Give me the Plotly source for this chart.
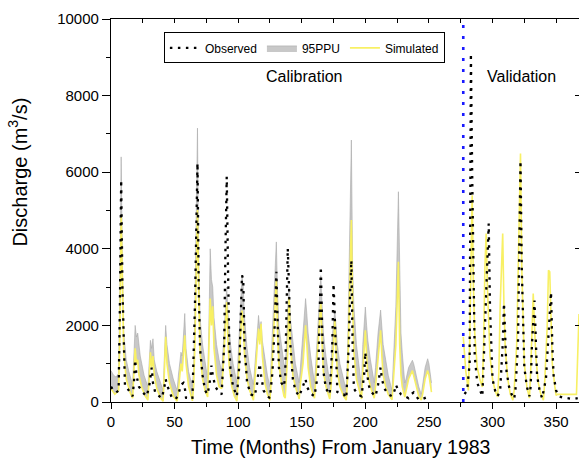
import plotly.graph_objects as go

# ---------------- data (months since Jan 1983, discharge m3/s) ----------------
sim_cal_month = [0, 3, 6, 7, 8, 9, 10, 12, 15, 17,
                 18, 19, 20, 21, 22, 24, 27, 29,
                 30, 31, 32, 33, 34, 36, 39, 41,
                 42, 43, 44, 46, 49, 52,
                 53, 55, 56, 57, 58, 59, 61, 64,
                 65, 66, 67, 68, 69, 70, 72, 74, 76,
                 77, 78, 79, 80, 81, 83, 85, 87,
                 88, 90, 91, 92, 93, 95, 97, 99,
                 100, 102, 103, 104, 105, 107, 109, 112,
                 113, 115, 116, 117, 118, 119, 121, 123, 125,
                 126, 128, 130, 131, 132, 134, 136, 137,
                 138, 139, 140, 141, 143, 145, 148,
                 149, 151, 153, 154, 155, 157, 160,
                 161, 163, 165, 166, 167, 169, 172,
                 173, 174, 176, 177, 178, 180, 183, 185,
                 186, 187, 189, 190, 191, 193, 195, 197,
                 198, 200, 201, 202, 204, 207,
                 208, 210, 212, 213, 214, 216, 218, 221,
                 222, 224, 226, 227, 228, 229, 231,
                 232, 234, 237, 238, 240, 242, 244,
                 245, 247, 249, 250, 252]
sim_cal_value = [350, 200, 300, 1800, 4880, 2600, 1300, 600, 250, 100,
                 700, 1400, 1000, 1100, 700, 400, 150, 50,
                 600, 1300, 900, 1200, 700, 350, 100, 20,
                 800, 1700, 1000, 500, 150, 20,
                 300, 1000, 800, 1200, 1740, 1000, 400, 30,
                 400, 1500, 3000, 5010, 2800, 1300, 600, 300, 130,
                 1200, 2700, 2000, 2500, 1400, 700, 400, 350,
                 800, 2000, 2610, 1500, 900, 400, 150, 20,
                 700, 1800, 2390, 2000, 1200, 600, 300, 50,
                 500, 1300, 1920, 1500, 2040, 1200, 500, 200, 50,
                 600, 1800, 3180, 1800, 1000, 500, 150, 100,
                 700, 1300, 2740, 1500, 700, 400, 80,
                 500, 1000, 2000, 1500, 900, 400, 100,
                 600, 1500, 2610, 1500, 800, 400, 80,
                 400, 1000, 2130, 1300, 800, 400, 150, 50,
                 600, 2000, 4750, 2500, 1300, 600, 300, 80,
                 800, 1870, 1200, 700, 400, 100,
                 400, 1200, 1870, 1200, 700, 400, 200, 60,
                 500, 1500, 3660, 1500, 700, 400, 130,
                 300, 600, 820, 700, 400, 150, 50,
                 200, 600, 820, 700, 260]

sim_val_month = [277, 279, 281, 282, 283, 284, 285, 286, 288, 290, 292,
                 293, 294, 295, 296, 297, 298, 300, 302, 304,
                 305, 306, 308, 309, 310, 312, 314, 316,
                 317, 319, 321, 322, 323, 324, 325, 327, 329,
                 330, 331, 332, 333, 334, 336, 338, 340,
                 341, 343, 344, 345, 346, 347, 349, 350,
                 351, 366, 368]
sim_val_value = [1700, 800, 300, 1500, 3500, 5400, 3000, 1800, 900, 600, 390,
                 1500, 3500, 4400, 3000, 2000, 1200, 600, 300, 130,
                 800, 2500, 4400, 2500, 1400, 600, 200, 50,
                 300, 1500, 4500, 6490, 3500, 2000, 1000, 400, 100,
                 800, 1800, 2830, 2000, 1200, 500, 200, 50,
                 500, 2000, 3440, 3400, 2000, 1000, 400, 170,
                 200, 200, 2300]

ppu_month = [0, 2, 4, 6, 7, 8, 9, 10, 12, 14, 17,
             18, 19, 20, 21, 23, 26, 29,
             30, 31, 32, 33, 34, 36, 39, 41,
             42, 43, 44, 46, 49, 52,
             53, 55, 56, 57, 58, 59, 61, 64,
             65, 66, 67, 68, 69, 70, 72, 74, 76,
             77, 78, 79, 80, 81, 83, 85, 87,
             88, 90, 91, 92, 94, 96, 99,
             100, 102, 103, 104, 105, 107, 109, 112,
             113, 115, 116, 117, 118, 119, 121, 123, 125,
             126, 128, 130, 131, 132, 134, 136, 137,
             138, 139, 140, 141, 143, 145, 148,
             149, 151, 153, 154, 155, 157, 160,
             161, 163, 165, 166, 167, 169, 172,
             173, 174, 176, 177, 178, 180, 183, 185,
             186, 187, 189, 190, 191, 193, 195, 197,
             198, 200, 201, 202, 204, 207,
             208, 210, 212, 213, 214, 216, 218, 221,
             222, 224, 226, 227, 228, 229, 231,
             232, 234, 237, 238, 240, 242, 244,
             245, 247, 249, 250, 252]
ppu_upper = [820, 700, 650, 750, 3000, 6400, 3500, 1800, 1100, 800, 450,
             1200, 2000, 1700, 1800, 1200, 700, 400,
             900, 1610, 1400, 1650, 1100, 800, 500, 300,
             1200, 2000, 1500, 1000, 600, 300,
             700, 1300, 1200, 1800, 2310, 1400, 800, 400,
             900, 2500, 4500, 7150, 3500, 2200, 1500, 1000, 600,
             2000, 4000, 3200, 3000, 2200, 1500, 1100, 800,
             1300, 2500, 3000, 2300, 1500, 1000, 500,
             1200, 2500, 3300, 3000, 2200, 1400, 900, 450,
             900, 1700, 2260, 1900, 2100, 1600, 1100, 700, 400,
             1100, 2800, 4180, 2800, 2000, 1500, 1000, 900,
             1500, 2500, 3000, 2200, 1500, 1000, 500,
             900, 1800, 2700, 2300, 1800, 1200, 500,
             1000, 2200, 3300, 2500, 1800, 1200, 500,
             900, 1700, 2400, 2000, 1500, 1000, 600, 300,
             1200, 3000, 6840, 3500, 2500, 1500, 1000, 400,
             1500, 2480, 2000, 1600, 1100, 500,
             900, 1800, 2400, 1900, 1500, 1100, 700, 300,
             1000, 2500, 5490, 3000, 1800, 1300, 500,
             600, 900, 1090, 1000, 700, 400, 200,
             400, 900, 1130, 1000, 500]

obs_cal_month = [0, 2, 4, 6, 7, 8, 9, 10, 11, 13, 15, 17,
                 18, 19, 20, 22, 25, 28,
                 30, 31, 32, 33, 35, 38, 40,
                 42, 43, 44, 46, 48, 51,
                 53, 55, 57, 58, 59, 62, 64,
                 66, 67, 68, 69, 70, 72, 74, 76,
                 78, 79, 80, 82, 84, 87,
                 89, 90, 91, 92, 93, 94, 96, 99,
                 101, 102, 103, 104, 105, 107, 110, 113,
                 115, 116, 117, 118, 120, 123, 125,
                 127, 129, 130, 131, 132, 134, 136, 137,
                 138, 139, 140, 141, 143, 145, 148,
                 151, 153, 154, 157, 160,
                 163, 164, 165, 166, 167, 169, 172,
                 174, 175, 176, 177, 178, 181, 183, 185,
                 187, 188, 189, 190, 191, 194, 197,
                 199, 200, 201, 203, 205, 208,
                 210, 212, 213, 215, 218, 221,
                 223, 224, 226, 228, 231, 234,
                 236, 238, 240, 242, 245, 248, 250]
obs_cal_value = [400, 300, 250, 300, 2500, 5800, 3000, 1200, 400, 350, 250, 150,
                 500, 1100, 700, 400, 250, 150,
                 400, 700, 900, 500, 220, 150, 100,
                 400, 600, 450, 250, 100, 80,
                 200, 450, 500, 380, 110, 100, 80,
                 2500, 4500, 6240, 3000, 1400, 700, 300, 200,
                 600, 950, 700, 400, 300, 200,
                 1500, 4000, 5880, 3500, 1500, 800, 400, 150,
                 1000, 2200, 3310, 3200, 1500, 500, 200, 150,
                 500, 800, 1000, 700, 300, 150, 100,
                 800, 2200, 3400, 2000, 900, 500, 400, 700,
                 2500, 4010, 3000, 1500, 600, 300, 150,
                 400, 600, 400, 220, 150,
                 800, 2200, 3530, 2000, 800, 350, 200,
                 1500, 3090, 2200, 1000, 260, 200, 200, 100,
                 1500, 2800, 3700, 1500, 350, 200, 150,
                 700, 1300, 800, 400, 250, 150,
                 450, 900, 600, 350, 200, 150,
                 300, 450, 300, 200, 150, 100,
                 200, 250, 150, 60, 80, 120, 200]

obs_val_month = [278, 280, 282, 283, 284, 285, 286, 288, 290, 292,
                 293, 294, 295, 296, 297, 298, 299, 300, 302, 304,
                 306, 308, 309, 310, 311, 313, 315, 317,
                 318, 320, 321, 322, 323, 324, 325, 327, 329,
                 330, 331, 333, 334, 335, 337, 339,
                 342, 344, 345, 346, 347, 348, 350, 352,
                 355, 358, 361, 364, 367]
obs_val_value = [210, 300, 1000, 9100, 6000, 3000, 1200, 500, 300, 150,
                 1000, 2000, 3000, 4200, 4660, 2500, 1200, 600, 300, 150,
                 300, 1500, 2580, 1500, 800, 400, 200, 80,
                 300, 1500, 3500, 6300, 3500, 1800, 900, 400, 150,
                 400, 1500, 2650, 1500, 700, 300, 100,
                 600, 1800, 2500, 2870, 1500, 700, 300, 150,
                 120, 100, 90, 80, 100]

split_month = 277
x_range = [0, 368]
y_range = [0, 10000]
x_ticks = [0, 50, 100, 150, 200, 250, 300, 350]
y_ticks = [0, 2000, 4000, 6000, 8000, 10000]
y_tick_labels = ["0", "2000", "4000", "6000", "8000", "10000"]
period_labels = ["Calibration", "Validation"]
period_label_month = [152, 323]
period_label_value = [8490, 8490]

FONT = "Liberation Sans, Arial, sans-serif"

fig = go.Figure()

# lower edge of the 95PPU band (simulated, calibration period)
fig.add_trace(go.Scatter(x=sim_cal_month, y=sim_cal_value, mode="lines",
                         line=dict(width=0, color="rgba(0,0,0,0)"),
                         showlegend=False, hoverinfo="skip"))
fig.add_trace(go.Scatter(x=ppu_month, y=ppu_upper, mode="lines", name="95PPU",
                         fill="tonexty", fillcolor="#c8c8c8",
                         line=dict(width=0.6, color="#a8a8a8"), legendrank=2))

sim_x = sim_cal_month + [None] + sim_val_month
sim_y = sim_cal_value + [None] + sim_val_value
fig.add_trace(go.Scatter(x=sim_x, y=sim_y, mode="lines", name="Simulated",
                         line=dict(color="#f8f064", width=1.6), legendrank=3))

obs_x = obs_cal_month + [None] + obs_val_month
obs_y = obs_cal_value + [None] + obs_val_value
fig.add_trace(go.Scatter(x=obs_x, y=obs_y, mode="lines", name="Observed",
                         line=dict(color="black", width=2.3, dash="2.5px,5.5px"),
                         legendrank=1))

# calibration / validation split
fig.add_trace(go.Scatter(x=[split_month, split_month], y=y_range, mode="lines",
                         line=dict(color="#1a1aff", width=2.6, dash="3px,8px"),
                         showlegend=False, hoverinfo="skip"))

# dummy traces for mirrored axes
fig.add_trace(go.Scatter(x=[], y=[], xaxis="x2", yaxis="y", showlegend=False))
fig.add_trace(go.Scatter(x=[], y=[], xaxis="x", yaxis="y2", showlegend=False))

for txt, mx, my in zip(period_labels, period_label_month, period_label_value):
    fig.add_annotation(x=mx, y=my, text=txt, showarrow=False,
                       font=dict(family=FONT, size=16, color="black"))

fig.add_annotation(xref="paper", yref="paper", x=0.49, y=-0.118,
                   text="Time (Months) From January 1983", showarrow=False,
                   xanchor="center", yanchor="middle",
                   font=dict(family=FONT, size=19.5, color="black"))
fig.add_annotation(xref="paper", yref="paper", x=-0.2, y=0.60,
                   text="Discharge (m<sup>3</sup>/s)", showarrow=False, textangle=-90,
                   xanchor="center", yanchor="middle",
                   font=dict(family=FONT, size=20, color="black"))

fig.update_layout(
    width=579, height=460,
    margin=dict(l=111, r=0, t=19, b=58),
    paper_bgcolor="white", plot_bgcolor="white",
    font=dict(family=FONT, size=15, color="black"),
    showlegend=True,
    legend=dict(orientation="h", x=0.113, y=0.965, xanchor="left", yanchor="top",
                traceorder="normal",
                bordercolor="black", borderwidth=1, bgcolor="white",
                font=dict(family=FONT, size=12, color="black"),
                itemwidth=30, tracegroupgap=0),
    xaxis=dict(range=x_range, tickvals=x_ticks, showgrid=False, zeroline=False,
               showline=True, linecolor="black", linewidth=1.3,
               ticks="outside", ticklen=6, tickwidth=1.3, tickcolor="black",
               minor=dict(dtick=25, tick0=0, ticks="outside", ticklen=3.5,
                          tickcolor="black", tickwidth=1.2, showgrid=False),
               tickfont=dict(family=FONT, size=15)),
    yaxis=dict(range=y_range, tickvals=y_ticks, ticktext=y_tick_labels,
               showgrid=False, zeroline=False,
               showline=True, linecolor="black", linewidth=1.3,
               ticks="outside", ticklen=8, tickwidth=1.3, tickcolor="black",
               minor=dict(dtick=1000, tick0=0, ticks="outside", ticklen=4,
                          tickcolor="black", tickwidth=1.2, showgrid=False),
               tickfont=dict(family=FONT, size=15)),
    xaxis2=dict(range=x_range, overlaying="x", side="top", anchor="y",
                dtick=25, tick0=0, ticks="inside", ticklen=4, tickwidth=1.2,
                tickcolor="black", showticklabels=False, showgrid=False,
                zeroline=False, showline=True, linecolor="black", linewidth=1.3),
    yaxis2=dict(range=y_range, overlaying="y", side="right", anchor="x",
                dtick=2000, tick0=0, ticks="inside", ticklen=4, tickwidth=1.2,
                tickcolor="black", showticklabels=False, showgrid=False,
                zeroline=False, showline=False),
)

fig.write_html("out.html")
